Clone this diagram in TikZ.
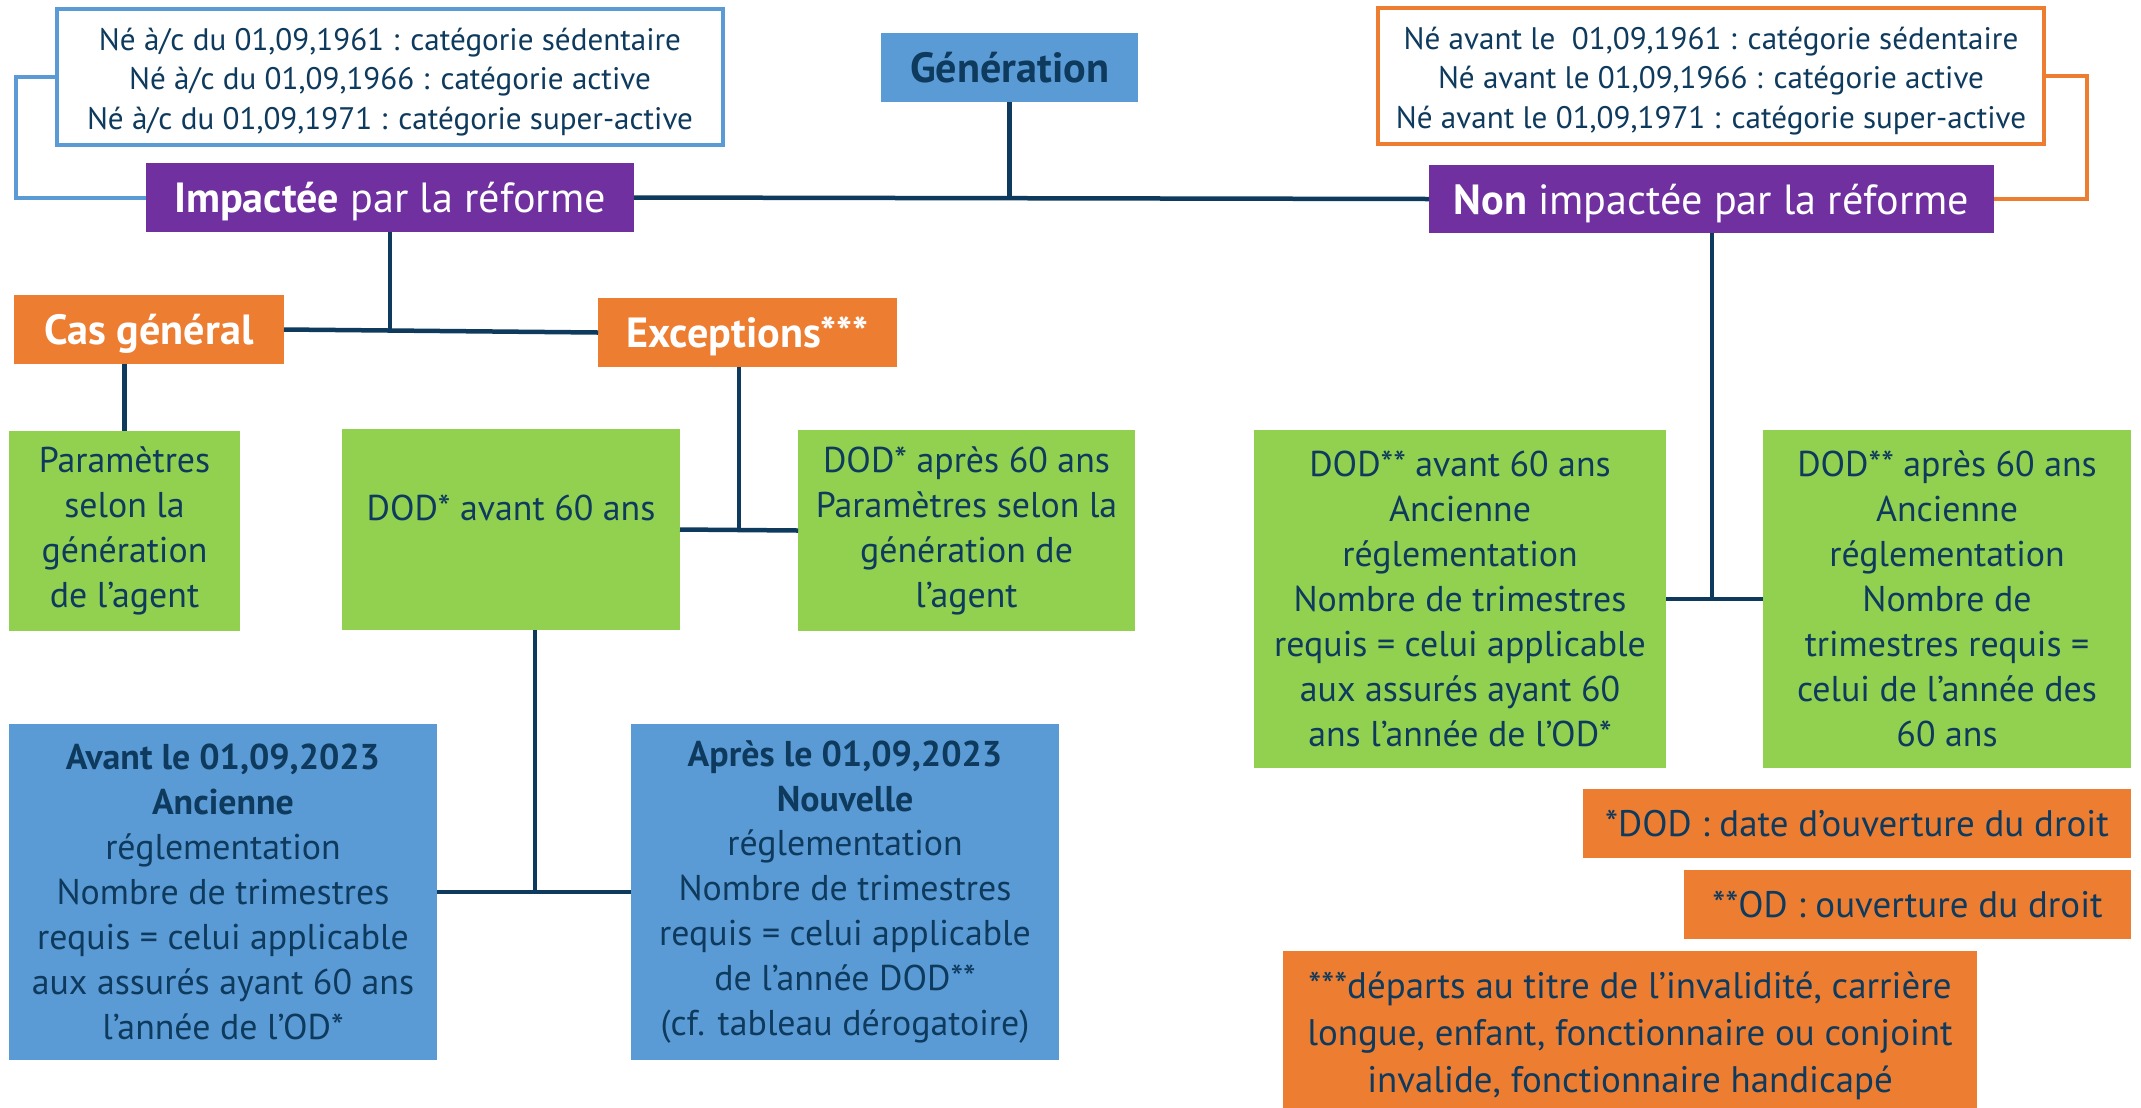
\documentclass[tikz,border=0pt]{standalone}
\usepackage{fontspec}
\setmainfont{PT Sans}
\definecolor{navy}{HTML}{0E3A5E}
\definecolor{cgreen}{HTML}{92D050}
\definecolor{corange}{HTML}{ED7D31}
\definecolor{cblue}{HTML}{5B9BD5}
\definecolor{cpurple}{HTML}{7030A0}
\newcommand\myfs[2]{\fontsize{#1}{#2}\selectfont}
\tikzset{
 base/.style={rectangle, inner sep=0pt, outer sep=0pt, align=center, text=navy},
 body/.style={base, font=\myfs{10.2pt}{12.8pt}},
 greenbox/.style={body, fill=cgreen},
 bluebox/.style={body, fill=cblue},
 notebox/.style={body, fill=corange, font=\myfs{10.5pt}{13.3pt}},
 head/.style={base, font=\myfs{12pt}{14pt}, text=white, text depth=0pt},
 purplebox/.style={head, fill=cpurple},
 orangehead/.style={head, fill=corange},
 genbox/.style={head, fill=cblue, text=navy},
 framebox/.style={base, line width=0.4mm, fill=white},
 toptext/.style={base, font=\myfs{8.85pt}{11.2pt}},
 conn/.style={draw=navy, line width=0.45mm},
 bracket/.style={line width=0.4mm},
}
\begin{document}
\begin{tikzpicture}[x=0.1mm,y=-0.1mm]
\useasboundingbox (0,0) rectangle (2141,1107);
% top boxes
\node[framebox, draw=cblue, minimum width=66.6mm, minimum height=13.6mm] (topL) at (390,77) {};
\node[toptext] (topLtxt) at (390,82)
 {Né à/c du 01,09,1961 : catégorie sédentaire\\Né à/c du 01,09,1966 : catégorie active\\Né à/c du 01,09,1971 : catégorie super-active};
\node[framebox, draw=corange, minimum width=66.6mm, minimum height=13.6mm] (topR) at (1711,76) {};
\node[toptext] (topRtxt) at (1711,81)
 {Né avant le\ \ 01,09,1961 : catégorie sédentaire\\Né avant le 01,09,1966 : catégorie active\\Né avant le 01,09,1971 : catégorie super-active};
\node[genbox, minimum width=25.7mm, minimum height=6.9mm] (gen) at (1009.5,67.5) {\textbf{Génération}};
\node[purplebox, minimum width=48.8mm, minimum height=6.9mm] (imp) at (390,197.5) {\textbf{Impactée} par la réforme};
\node[purplebox, minimum width=56.5mm, minimum height=6.8mm] (non) at (1711.5,199) {\textbf{Non} impactée par la réforme};
\node[orangehead, minimum width=27.0mm, minimum height=6.9mm] (cas) at (149,329.5) {\textbf{Cas général}};
\node[orangehead, minimum width=29.9mm, minimum height=6.9mm] (exc) at (747.5,332.5) {\textbf{Exceptions***}};
% green boxes
\node[greenbox, minimum width=23.1mm, minimum height=20.0mm] (param) at (124.5,531) {Paramètres\\selon la\\génération\\de l’agent};
\node[greenbox, minimum width=33.8mm, minimum height=20.1mm] (dodA) at (511,529.5) {};
\node[body] (dodAtxt) at (511,508) {DOD* avant 60 ans};
\node[greenbox, minimum width=33.7mm, minimum height=20.1mm] (dodB) at (966.5,530.5) {DOD* après 60 ans\\Paramètres selon la\\génération de\\l’agent};
\node[greenbox, minimum width=41.2mm, minimum height=33.8mm] (dodC) at (1460,599) {DOD** avant 60 ans\\Ancienne\\réglementation\\Nombre de trimestres\\requis = celui applicable\\aux assurés ayant 60\\ans l’année de l’OD*};
\node[greenbox, minimum width=36.8mm, minimum height=33.8mm] (dodD) at (1947,599) {DOD** après 60 ans\\Ancienne\\réglementation\\Nombre de\\trimestres requis =\\celui de l’année des\\60 ans};
% blue boxes
\node[bluebox, minimum width=42.8mm, minimum height=33.6mm] (avant) at (223,892) {\textbf{Avant le 01,09,2023}\\\textbf{Ancienne}\\réglementation\\Nombre de trimestres\\requis = celui applicable\\aux assurés ayant 60 ans\\l’année de l’OD*};
\node[bluebox, minimum width=42.8mm, minimum height=33.6mm] (apres) at (845,892) {\textbf{Après le 01,09,2023}\\\textbf{Nouvelle}\\réglementation\\Nombre de trimestres\\requis = celui applicable\\de l’année DOD**\\(cf. tableau dérogatoire)};
% notes
\node[notebox, minimum width=54.8mm, minimum height=6.9mm] (fn1) at (1857,823.5) {*DOD : date d’ouverture du droit};
\node[notebox, minimum width=44.7mm, minimum height=6.9mm] (fn2) at (1907.5,904.5) {**OD : ouverture du droit};
\node[notebox, minimum width=69.4mm, minimum height=17.0mm] (fn3) at (1630,1036) {***départs au titre de l’invalidité, carrière\\longue, enfant, fonctionnaire ou conjoint\\invalide, fonctionnaire handicapé};
% connectors
\coordinate (j1) at (1010,198);
\coordinate (j2) at (390,330);
\coordinate (j3) at (739,530);
\coordinate (j4) at (535,891);
\coordinate (j5) at (1712,598);
\draw[conn] (imp.east) -- (non.west);
\draw[conn] (gen.south) -- (gen.south |- j1);
\draw[bracket, draw=cblue] (topL.west) -- ++(-41,0) |- (imp.west);
\draw[bracket, draw=corange] (topR.east) -- ++(43,0) |- (non.east);
\draw[conn] (imp.south) -- (imp.south |- j2);
\draw[conn] (cas.east) -- (exc.west);
\draw[conn] (cas.south -| param.north) -- (param.north);
\draw[conn] (exc.south -| j3) -- (j3);
\draw[conn] (dodA.east) -- (dodB.west);
\draw[conn] (dodA.south -| j4) -- (j4);
\draw[conn] (avant.east) -- (apres.west);
\draw[conn] (non.south -| j5) -- (j5);
\draw[conn] (dodC.east) -- (dodD.west);
\end{tikzpicture}
\end{document}
